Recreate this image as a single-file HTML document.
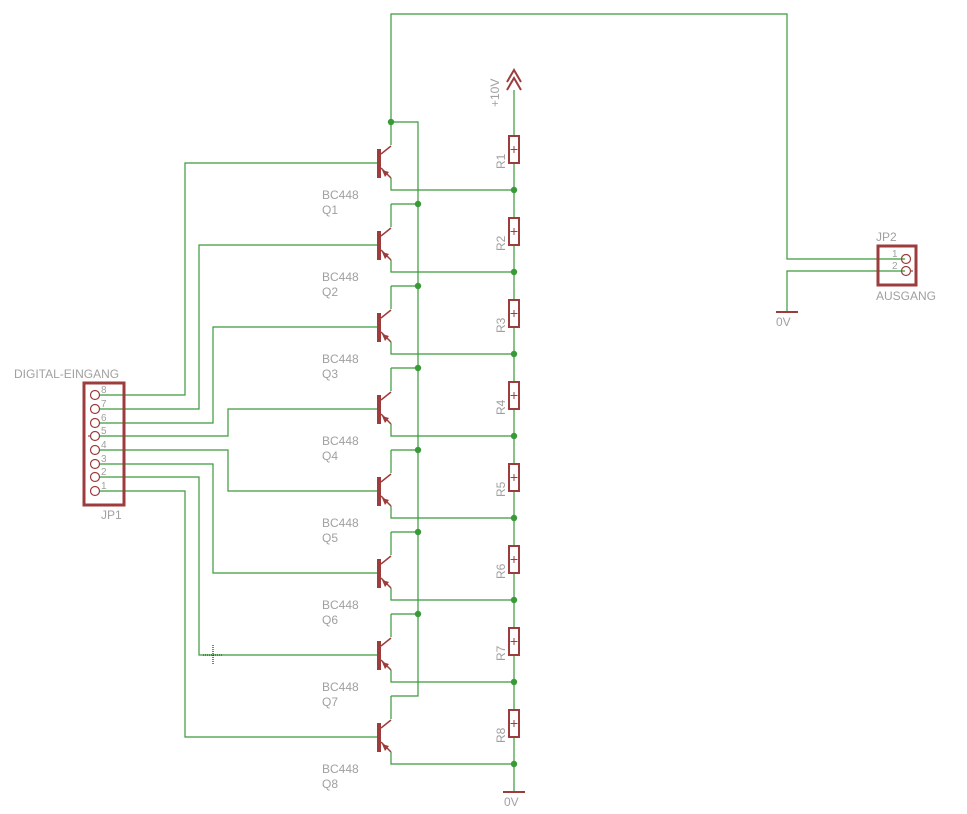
<!DOCTYPE html>
<html><head><meta charset="utf-8"><style>
html,body{margin:0;padding:0;background:#fff;}
svg{display:block;}
text{font-family:"Liberation Sans",sans-serif;fill:#a0a0a0;}
</style></head><body>
<svg width="967" height="814" viewBox="0 0 967 814" xmlns="http://www.w3.org/2000/svg">
<defs>
<g id="tr">
  <path d="M391,122 V145 M391,178 V190 H514" fill="none" stroke="#3a9a3a" stroke-width="1.2"/>
  <rect x="377" y="149" width="4" height="29" fill="#9c3c3c"/>
  <path d="M381,154 L391,146 M381,168 L391,178" stroke="#9c3c3c" stroke-width="1.5"/>
  <polygon points="382,170 389,172 385,177" fill="#9c3c3c"/>
  <circle cx="514" cy="190" r="3.2" fill="#3a9a3a"/>
</g>
<g id="rs">
  <rect x="509" y="136" width="10" height="27" fill="#fff" stroke="#9c3c3c" stroke-width="2"/>
  <path d="M514,146 V153 M510.5,149.5 H517.5" stroke="#9c3c3c" stroke-width="1"/>
</g>
</defs>
<g fill="none" stroke="#3a9a3a" stroke-width="1.2">
  <path d="M391,122 V14 H787 V259 H905"/>
  <path d="M905,271 H787 V312"/>
  <path d="M391,122 H418 V696 H391"/>
  <path d="M514,90 V792"/>
  <path d="M391,204 H418 M391,286 H418 M391,368 H418 M391,450 H418 M391,532 H418 M391,614 H418"/>
  <path d="M100,395 H185 V163 H377"/>
  <path d="M100,409 H199 V245 H377"/>
  <path d="M100,423 H213 V327 H377"/>
  <path d="M100,436 H228 V409 H377"/>
  <path d="M100,450 H228 V491 H377"/>
  <path d="M100,464 H213 V573 H377"/>
  <path d="M100,477 H199 V655 H377"/>
  <path d="M100,491 H185 V737 H377"/>
</g>
<path d="M213,645 V665 M203,655 H223" stroke="#000" stroke-width="1" stroke-dasharray="1,1"/>
<g fill="#3a9a3a">
  <circle cx="391" cy="122" r="3.2"/>
  <circle cx="418" cy="204" r="3.2"/><circle cx="418" cy="286" r="3.2"/><circle cx="418" cy="368" r="3.2"/>
  <circle cx="418" cy="450" r="3.2"/><circle cx="418" cy="532" r="3.2"/><circle cx="418" cy="614" r="3.2"/>
</g>
<use href="#tr"/><use href="#tr" y="82"/><use href="#tr" y="164"/><use href="#tr" y="246"/>
<use href="#tr" y="328"/><use href="#tr" y="410"/><use href="#tr" y="492"/><use href="#tr" y="574"/>
<use href="#rs"/><use href="#rs" y="82"/><use href="#rs" y="164"/><use href="#rs" y="246"/>
<use href="#rs" y="328"/><use href="#rs" y="410"/><use href="#rs" y="492"/><use href="#rs" y="574"/>
<g font-size="12">
<text x="322" y="199">BC448</text><text x="322" y="214">Q1</text>
<text x="322" y="281">BC448</text><text x="322" y="296">Q2</text>
<text x="322" y="363">BC448</text><text x="322" y="378">Q3</text>
<text x="322" y="445">BC448</text><text x="322" y="460">Q4</text>
<text x="322" y="527">BC448</text><text x="322" y="542">Q5</text>
<text x="322" y="609">BC448</text><text x="322" y="624">Q6</text>
<text x="322" y="691">BC448</text><text x="322" y="706">Q7</text>
<text x="322" y="773">BC448</text><text x="322" y="788">Q8</text>
</g>
<g font-size="12">
<text transform="translate(505,169) rotate(-90)">R1</text>
<text transform="translate(505,251) rotate(-90)">R2</text>
<text transform="translate(505,333) rotate(-90)">R3</text>
<text transform="translate(505,415) rotate(-90)">R4</text>
<text transform="translate(505,497) rotate(-90)">R5</text>
<text transform="translate(505,579) rotate(-90)">R6</text>
<text transform="translate(505,661) rotate(-90)">R7</text>
<text transform="translate(505,743) rotate(-90)">R8</text>
<text transform="translate(499,107) rotate(-90)">+10V</text>
</g>
<path d="M507,82 L514,70 L521,82 M507,90 L514,78 L521,90" fill="none" stroke="#9c3c3c" stroke-width="2"/>
<path d="M503,792 H525 M776,312 H798" stroke="#9c3c3c" stroke-width="2"/>
<text x="504" y="806" font-size="12">0V</text>
<text x="776" y="326" font-size="12">0V</text>
<rect x="84" y="383" width="40" height="122" fill="none" stroke="#9c3c3c" stroke-width="3"/>
<g fill="none" stroke="#9c3c3c" stroke-width="1.2">
<circle cx="95" cy="395" r="4.5"/><circle cx="95" cy="409" r="4.5"/><circle cx="95" cy="423" r="4.5"/>
<circle cx="95" cy="436" r="4.5"/><circle cx="95" cy="450" r="4.5"/><circle cx="95" cy="464" r="4.5"/>
<circle cx="95" cy="477" r="4.5"/><circle cx="95" cy="491" r="4.5"/>
<path d="M88,436 H91"/>
</g>
<g font-size="10">
<text x="101" y="393">8</text><text x="101" y="407">7</text><text x="101" y="421">6</text><text x="101" y="434">5</text>
<text x="101" y="448">4</text><text x="101" y="462">3</text><text x="101" y="475">2</text><text x="101" y="489">1</text>
</g>
<text x="14" y="378" font-size="12">DIGITAL-EINGANG</text>
<text x="101" y="519" font-size="12">JP1</text>
<rect x="878" y="246" width="38" height="39" fill="none" stroke="#9c3c3c" stroke-width="3"/>
<g fill="none" stroke="#9c3c3c" stroke-width="1.2">
<circle cx="906" cy="259" r="4.5"/><circle cx="906" cy="271" r="4.5"/><path d="M910,271 H913"/>
</g>
<text x="892" y="257" font-size="10">1</text><text x="892" y="269" font-size="10">2</text>
<text x="876" y="241" font-size="12">JP2</text>
<text x="876" y="300" font-size="12">AUSGANG</text>
</svg>
</body></html>
